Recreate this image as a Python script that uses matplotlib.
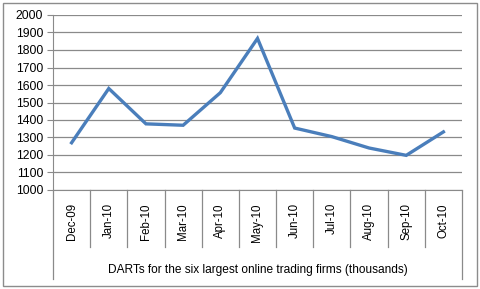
import matplotlib
matplotlib.use('Agg')
import matplotlib.pyplot as plt
from matplotlib.patches import Rectangle

# 数据
months = ['Dec-09', 'Jan-10', 'Feb-10', 'Mar-10', 'Apr-10', 'May-10',
          'Jun-10', 'Jul-10', 'Aug-10', 'Sep-10', 'Oct-10']
darts = [1270, 1580, 1378, 1370, 1556, 1866, 1354, 1305, 1240, 1198, 1332]
yticks = [1000, 1100, 1200, 1300, 1400, 1500, 1600, 1700, 1800, 1900, 2000]
xlabel = 'DARTs for the six largest online trading firms (thousands)'

plt.rcParams['font.family'] = ['Liberation Sans', 'DejaVu Sans']

fig = plt.figure(figsize=(4.8, 2.89), dpi=100)
W, H = 480, 289
ax = fig.add_axes([53 / W, 1 - 190 / H, (462 - 53) / W, 175 / H])

# 外框
fig.patches.append(Rectangle((3 / W, 3 / H), 474 / W, 283 / H, transform=fig.transFigure,
                             fill=False, edgecolor='#8c8c8c', linewidth=1))

ax.plot(range(len(months)), darts, color='#4a7ebb', linewidth=2.4, solid_joinstyle='miter')

ax.set_xlim(-0.5, len(months) - 0.5)
ax.set_ylim(1000, 2000)
ax.set_yticks(yticks)
ax.set_xticks([])
ax.yaxis.grid(True, color='#8a8a8a', linewidth=0.9)
ax.set_axisbelow(True)
for s in ['top', 'right']:
    ax.spines[s].set_visible(False)
ax.spines['left'].set_color('#8a8a8a')
ax.spines['bottom'].set_color('#8a8a8a')
ax.tick_params(axis='y', length=4, color='#8a8a8a', labelsize=8.8, pad=3)

# 分类轴分隔线和标签
tr = ax.get_xaxis_transform()
for i in range(len(months) + 1):
    x = i - 0.5
    ybot = -0.51 if i in (0, len(months)) else -0.326
    ax.plot([x, x], [0, ybot], transform=tr, color='#8a8a8a', linewidth=0.9, clip_on=False)
for i, m in enumerate(months):
    ax.text(i, -0.075, m, transform=tr, rotation=90, ha='center', va='top', fontsize=8.3)
ax.text((len(months) - 1) / 2, -0.46, xlabel, transform=tr, ha='center', va='center', fontsize=8.6)

fig.savefig('out.png', dpi=100)
